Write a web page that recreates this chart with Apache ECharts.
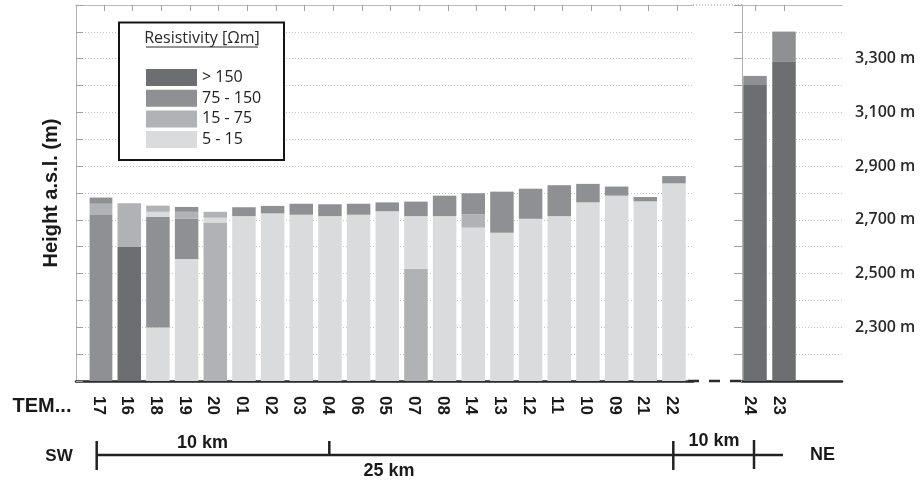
<!DOCTYPE html>
<html>
<head>
<meta charset="utf-8">
<script src="https://cdn.jsdelivr.net/npm/echarts@6/dist/echarts.min.js"></script>
<style>html,body{margin:0;padding:0;background:#fff;}#c{width:921px;height:485px;}</style>
</head>
<body>
<div id="c"></div>
<script>
// ---- data ----
const stationsSW = ['17','16','18','19','20','01','02','03','04','06','05','07','08','14','13','12','11','10','09','21','22'];
const stationsNE = ['24','23'];
const classNames = ['> 150', '75 - 150', '15 - 75', '5 - 15'];
const classColors = ['#6d6e72', '#8f9094', '#b1b2b5', '#dadbdd'];
// layer tops (m a.s.l.) from bottom to top, and the resistivity class of each layer
const layer1Top   = [2718, 2599, 2299, 2554, 2690, 2714, 2724, 2719, 2714, 2719, 2732, 2518, 2714, 2671, 2652, 2704, 2714, 2765, 2790, 2769, 2836];
const layer1Class = [1, 0, 3, 3, 2, 3, 3, 3, 3, 3, 3, 2, 3, 3, 3, 3, 3, 3, 3, 3, 3];
const layer2Top   = [2760, 2762, 2712, 2704, 2708, 2747, 2752, 2760, 2758, 2760, 2765, 2714, 2790, 2721, 2805, 2816, 2829, 2834, 2824, 2785, 2863];
const layer2Class = [2, 2, 1, 1, 3, 1, 1, 1, 1, 1, 1, 3, 1, 2, 1, 1, 1, 1, 1, 1, 1];
const layer3Top   = [2783, null, 2730, 2730, 2730, null, null, null, null, null, null, 2768, null, 2799, null, null, null, null, null, null, null];
const layer3Class = [1, null, 3, 2, 2, null, null, null, null, null, null, 1, null, 1, null, null, null, null, null, null, null];
const layer4Top   = [null, null, 2753, 2748, null, null, null, null, null, null, null, null, null, null, null, null, null, null, null, null, null];
const layer4Class = [null, null, 2, 1, null, null, null, null, null, null, null, null, null, null, null, null, null, null, null, null, null];
const neLayer1Top   = [3205, 3288];
const neLayer1Class = [0, 0];
const neLayer2Top   = [3236, 3401];
const neLayer2Class = [1, 1];
const yMin = 2100, yMax = 3500, yStep = 100;
const yLabelValues = [2300, 2500, 2700, 2900, 3100, 3300];

// ---- build ----
function layerData(tops, classes, prevTops) {
  return tops.map((t, i) => {
    if (t == null) return '-';
    const base = prevTops ? prevTops[i] : 0;
    return { value: t - base, itemStyle: { color: classColors[classes[i]] } };
  });
}
const swLayers = [[layer1Top, layer1Class], [layer2Top, layer2Class], [layer3Top, layer3Class], [layer4Top, layer4Class]];
const neLayers = [[neLayer1Top, neLayer1Class], [neLayer2Top, neLayer2Class]];

const FONT = 'Liberation Sans, Arial, sans-serif';
const series = [];
swLayers.forEach((l, k) => {
  series.push({
    type: 'bar', name: 'L' + (k + 1), xAxisIndex: 2, yAxisIndex: 2, stack: 'sw',
    barWidth: 23.5, data: layerData(l[0], l[1], k ? swLayers[k - 1][0] : null),
    silent: true, clip: true
  });
});
neLayers.forEach((l, k) => {
  series.push({
    type: 'bar', name: 'N' + (k + 1), xAxisIndex: 4, yAxisIndex: 3, stack: 'ne',
    barWidth: 23.5, data: layerData(l[0], l[1], k ? neLayers[k - 1][0] : null),
    silent: true, clip: true
  });
});
classNames.forEach((n, i) => {
  series.push({ type: 'bar', name: n, xAxisIndex: 2, yAxisIndex: 2, data: [], itemStyle: { color: classColors[i] } });
});

const grids = [
  { left: 76, width: 617, top: 5, height: 376 },   // 0 SW frame / gridlines
  { left: 742, width: 100, top: 5, height: 376 },  // 1 NE frame / gridlines
  { left: 89.6, width: 602, top: 5, height: 376 }, // 2 SW bars
  { left: 740.5, width: 58, top: 5, height: 376 }, // 3 NE bars
  { left: 84.1, width: 602, top: 5, height: 376 }, // 4 SW station labels
  { left: 735, width: 58, top: 5, height: 376 }    // 5 NE station labels
];
const splitLine = { show: true, lineStyle: { color: '#c4c4c4', type: [1, 2], width: 1 } };
const yBase = { type: 'value', min: yMin, max: yMax, interval: yStep };
const yAxes = [
  Object.assign({}, yBase, { gridIndex: 0, position: 'left', splitLine,
    axisLine: { show: true, lineStyle: { color: '#b0b0b0', width: 1 } },
    axisTick: { show: true, inside: true, length: 7, lineStyle: { color: '#a0a0a0' } },
    axisLabel: { show: false } }),
  Object.assign({}, yBase, { gridIndex: 1, position: 'right', splitLine,
    axisLine: { show: true, lineStyle: { color: '#b0b0b0', width: 1 } },
    axisTick: { show: true, inside: true, length: 8, lineStyle: { color: '#a0a0a0' } },
    axisLabel: { show: true, margin: 13, color: '#2a2a2a', fontFamily: 'Open Sans', fontWeight: 600, fontSize: 16,
      formatter: v => yLabelValues.indexOf(v) >= 0 ? v.toLocaleString('en-US') + ' m' : '' } }),
  Object.assign({}, yBase, { gridIndex: 2, show: false, splitLine: { show: false } }),
  Object.assign({}, yBase, { gridIndex: 3, show: false, splitLine: { show: false } }),
  Object.assign({}, yBase, { gridIndex: 4, show: false, splitLine: { show: false } }),
  Object.assign({}, yBase, { gridIndex: 5, show: false, splitLine: { show: false } })
];
const catLabel = { show: true, rotate: -90, margin: 15, color: '#1a1a1a', fontFamily: FONT, fontWeight: 'bold', fontSize: 17 };
const hiddenCat = (gi, pos, data, ticks) => ({ type: 'category', gridIndex: gi, position: pos, data,
  axisLine: { show: false },
  axisTick: ticks ? { show: true, alignWithLabel: true, inside: true, length: 6, lineStyle: { color: '#a0a0a0' } } : { show: false },
  axisLabel: { show: false } });
const xAxes = [
  { type: 'value', gridIndex: 0, position: 'bottom', min: 0, max: 1, axisLine: { show: true, onZero: false, lineStyle: { color: '#2a2a2a', width: 2.5 } }, axisTick: { show: false }, axisLabel: { show: false }, splitLine: { show: false } },
  { type: 'value', gridIndex: 1, position: 'bottom', min: 0, max: 1, axisLine: { show: true, onZero: false, lineStyle: { color: '#2a2a2a', width: 2.5 } }, axisTick: { show: false }, axisLabel: { show: false }, splitLine: { show: false } },
  hiddenCat(2, 'bottom', stationsSW, false),
  hiddenCat(2, 'top', stationsSW, true),
  hiddenCat(3, 'bottom', stationsNE, false),
  hiddenCat(3, 'top', stationsNE, true),
  { type: 'value', gridIndex: 0, position: 'top', min: 0, max: 1, axisLine: { show: true, onZero: false, lineStyle: { color: '#b8b8b8', width: 1 } }, axisTick: { show: false }, axisLabel: { show: false }, splitLine: { show: false } },
  { type: 'value', gridIndex: 1, position: 'top', min: 0, max: 1, axisLine: { show: true, onZero: false, lineStyle: { color: '#b8b8b8', width: 1 } }, axisTick: { show: false }, axisLabel: { show: false }, splitLine: { show: false } },
  { type: 'category', gridIndex: 4, position: 'bottom', data: stationsSW, axisLine: { show: false }, axisTick: { show: false }, axisLabel: catLabel },
  { type: 'category', gridIndex: 5, position: 'bottom', data: stationsNE, axisLine: { show: false }, axisTick: { show: false }, axisLabel: catLabel }
];

const txt = (x, y, text, size, extra) => Object.assign({ type: 'text', x, y, z: 60,
  style: Object.assign({ text, fill: '#1a1a1a', font: 'bold ' + size + 'px ' + FONT, align: 'center', verticalAlign: 'middle' }, extra || {}) });
const ln = (x1, y1, x2, y2, w, c, dash) => ({ type: 'line', z: 60, shape: { x1, y1, x2, y2 },
  style: { stroke: c || '#222', lineWidth: w || 2.5, lineDash: dash || null } });

const graphic = [
  { type: 'rect', z: 50, shape: { x: 119, y: 22.5, width: 165, height: 137.5 }, style: { fill: '#fff', stroke: '#141414', lineWidth: 2 } },
  txt(202, 38.5, 'Resistivity [Ωm]', 16, { font: '16px Open Sans', fill: '#2a2a2a' }),
  ln(146, 47, 258, 47, 1, '#2a2a2a'),
  Object.assign(txt(51, 193, 'Height a.s.l. (m)', 20), { rotation: Math.PI / 2 }),
  txt(42, 406.5, 'TEM...', 20),
  // broken axis marks
  ln(688, 381, 742, 381, 2.5, '#2a2a2a', [11, 10]),
  ln(693, 5, 742, 5, 1, '#999', [1, 2]),
  // distance scale
  ln(96.7, 455, 783, 455, 2.5),
  ln(96.7, 441, 96.7, 470, 2.5),
  ln(329.3, 441, 329.3, 455, 2.5),
  ln(673.3, 441, 673.3, 470, 2.5),
  ln(754, 440, 754, 469, 2.5),
  txt(59, 456.5, 'SW', 17),
  txt(822.5, 455, 'NE', 18),
  txt(202.5, 443, '10 km', 18),
  txt(389, 471.5, '25 km', 18),
  txt(714, 441.5, '10 km', 18)
];

const chart = echarts.init(document.getElementById('c'), null, { renderer: 'canvas' });
chart.setOption({
  animation: false,
  backgroundColor: '#fff',
  grid: grids,
  xAxis: xAxes,
  yAxis: yAxes,
  legend: {
    data: classNames, orient: 'vertical', left: 141, top: 64, z: 70,
    icon: 'rect', itemWidth: 51, itemHeight: 17, itemGap: 3.7, selectedMode: false,
    textStyle: { fontFamily: 'Open Sans', fontSize: 16, color: '#222' }
  },
  graphic,
  series
});
</script>
</body>
</html>
